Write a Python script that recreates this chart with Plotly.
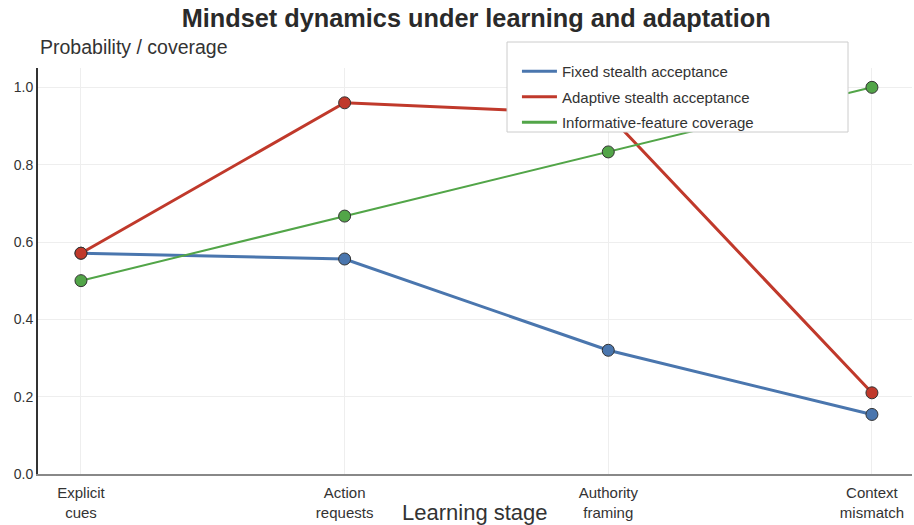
import plotly.graph_objects as go

stages = ["Explicit<br>cues", "Action<br>requests", "Authority<br>framing", "Context<br>mismatch"]
fixed_accept = [0.571, 0.556, 0.320, 0.154]
adaptive_accept = [0.571, 0.960, 0.930, 0.210]
coverage = [0.500, 0.667, 0.833, 1.000]
y_ticks = [0.0, 0.2, 0.4, 0.6, 0.8, 1.0]

series = [
    ("Fixed stealth acceptance", fixed_accept, "#4a76ae", 3),
    ("Adaptive stealth acceptance", adaptive_accept, "#c0392b", 3),
    ("Informative-feature coverage", coverage, "#52a548", 2),
]

fig = go.Figure()
for i, (name, vals, color, w) in enumerate(series):
    fig.add_trace(go.Scatter(
        x=stages, y=vals, name=name, mode="lines+markers", showlegend=False,
        line=dict(color=color, width=w),
        marker=dict(size=12, color=color, line=dict(color="#333333", width=1)),
    ))
for i, (name, vals, color, w) in enumerate(series):
    # legend entries: line only
    fig.add_trace(go.Scatter(
        x=[None], y=[None], name=name, mode="lines", legendgroup=f"g{i}",
        line=dict(color=color, width=3),
    ))

fig.update_layout(
    width=914, height=525,
    margin=dict(l=38, r=2, t=68, b=51, autoexpand=False),
    paper_bgcolor="white", plot_bgcolor="white",
    font=dict(family="Liberation Sans, Arial, sans-serif", color="#333333", size=14),
    title=dict(text="<b>Mindset dynamics under learning and adaptation</b>",
               x=0.521, xanchor="center", y=0.966, yanchor="middle",
               font=dict(size=25.3, color="#2a2a2a")),
    legend=dict(x=0.548, y=1.032, xanchor="left", yanchor="top",
                bgcolor="rgba(0,0,0,0)", borderwidth=0,
                font=dict(size=15, color="#333333"),
                tracegroupgap=3, itemwidth=35),
    showlegend=True,
    shapes=[dict(type="rect", xref="paper", yref="paper",
                 x0=(507 - 38) / 874, x1=(848 - 38) / 874,
                 y0=(474 - 132) / 406, y1=(474 - 42) / 406,
                 fillcolor="white", line=dict(color="#cccccc", width=1), layer="above")],
)
fig.update_xaxes(
    type="category", range=[-0.163, 3.152], automargin=False,
    showgrid=True, gridcolor="#eeeeee", gridwidth=1,
    showline=True, linecolor="#888888", linewidth=2,
    ticks="", ticklabelstandoff=4,
    tickfont=dict(family="Liberation Sans Narrow, Arial Narrow, sans-serif", size=15, color="#333333"),
)
fig.update_yaxes(
    range=[0, 1.05], tickvals=y_ticks, tickformat=".1f", automargin=False,
    showgrid=True, gridcolor="#eeeeee", gridwidth=1,
    showline=True, linecolor="#333333", linewidth=2,
    zeroline=False, ticks="", tickfont=dict(size=14, color="#333333"),
)
fig.add_annotation(text="Probability / coverage", xref="paper", yref="paper",
                   x=0, y=(474 - 47) / 406, xanchor="left", yanchor="middle", showarrow=False,
                   font=dict(size=19.5, color="#333333"))
fig.add_annotation(text="Learning stage", xref="paper", yref="paper",
                   x=(475 - 38) / 874, y=(474 - 512) / 406, xanchor="center", yanchor="middle",
                   showarrow=False, font=dict(size=22, color="#333333"))

fig.write_html("out.html", config={"displayModeBar": False},
               post_script="document.body.style.margin='0';document.body.style.overflow='hidden';")
